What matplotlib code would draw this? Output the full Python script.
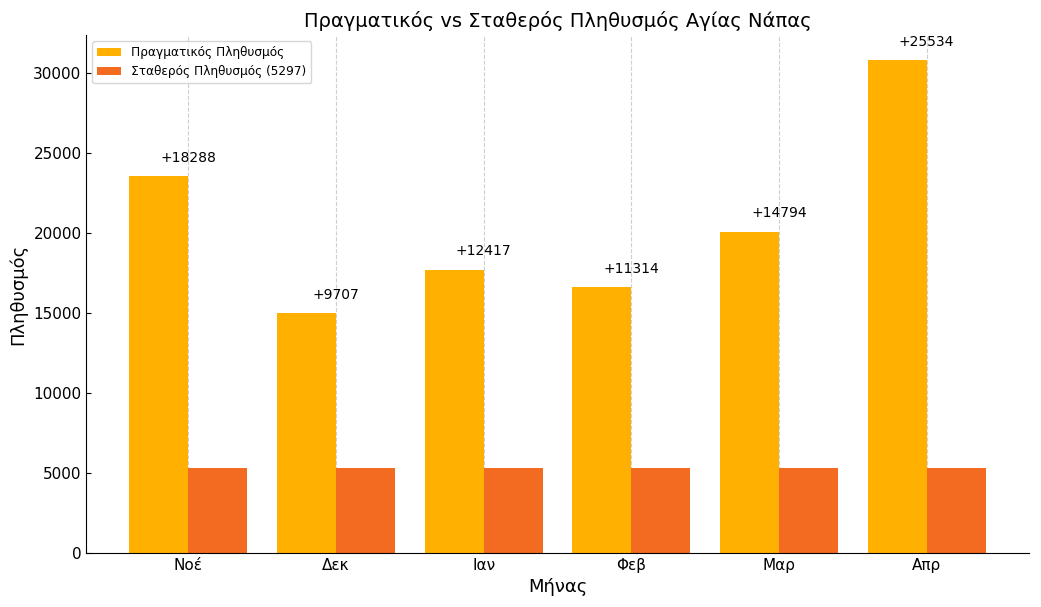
import matplotlib
matplotlib.use("Agg")
import matplotlib.pyplot as plt
import numpy as np

months = ["Νοέ", "Δεκ", "Ιαν", "Φεβ", "Μαρ", "Απρ"]
fixed_pop = 5297
diffs = [18288, 9707, 12417, 11314, 14794, 25534]
actual = [fixed_pop + d for d in diffs]
fixed = [fixed_pop] * len(months)

fig, ax = plt.subplots(figsize=(10.41, 6.07), dpi=100)
x = np.arange(len(months))
w = 0.4
ax.bar(x - w/2, actual, w, color="#FFB000", label="Πραγματικός Πληθυσμός")
ax.bar(x + w/2, fixed, w, color="#F26B21", label=f"Σταθερός Πληθυσμός ({fixed_pop})")

for xi, a, d in zip(x, actual, diffs):
    ax.text(xi, a + 700, f"+{d}", ha="center", va="bottom", fontsize=10)

ax.set_xticks(x)
ax.set_xticklabels(months, fontsize=11)
ax.tick_params(axis="y", labelsize=11)
ax.tick_params(direction="in")
ax.set_title("Πραγματικός vs Σταθερός Πληθυσμός Αγίας Νάπας", fontsize=14)
ax.set_xlabel("Μήνας", fontsize=13)
ax.set_ylabel("Πληθυσμός", fontsize=13)
ax.grid(axis="x", linestyle="--", alpha=0.6)
ax.set_axisbelow(True)
ax.spines["top"].set_visible(False)
ax.spines["right"].set_visible(False)
ax.legend(loc="upper left", fontsize=8.7)
fig.subplots_adjust(left=0.083, right=0.988, top=0.942, bottom=0.089)
fig.savefig("out.png", dpi=100)
